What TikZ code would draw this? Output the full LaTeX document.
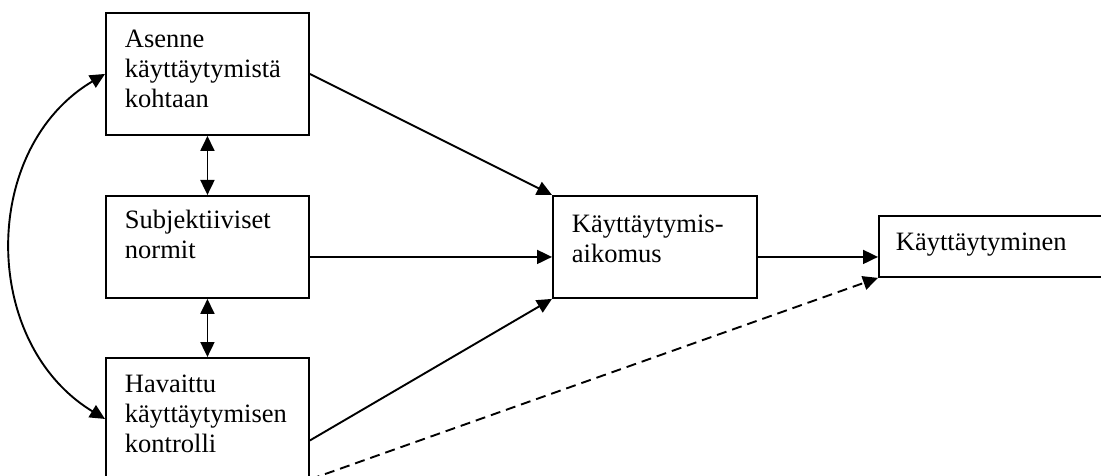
\documentclass[tikz,border=0pt]{standalone}
\usepackage{fontspec}
\setmainfont{Liberation Serif}
\usetikzlibrary{arrows.meta, positioning, calc}

\begin{document}
\begin{tikzpicture}[x=1pt, y=-1pt, >={Triangle[length=15pt, width=14pt]}, line width=1.9pt,
    box/.style={draw, anchor=north west, inner sep=0pt},
    lbl/.style={anchor=base west, inner sep=0pt, text width=200pt, align=left,
      font=\fontsize{26.5}{30}\selectfont}]
  \useasboundingbox[fill=white] (0,0) rectangle (1101,476);
  % boxes
  \node[box, minimum width=203pt, minimum height=122pt] (A) at (105,12) {};
  \node[box, minimum width=203pt, minimum height=102pt] (S) at (105,195) {};
  \node[box, minimum width=203pt, minimum height=133pt] (H) at (105,357) {};
  \node[box, minimum width=204pt, minimum height=102pt] (K) at (552,195) {};
  \node[box, minimum width=240pt, minimum height=61pt] (B) at (878,215) {};
  % texts
  \node[lbl] (tA) at ($(A.north west)+(19,36)$) {Asenne\\käyttäytymistä\\kohtaan};
  \node[lbl] (tS) at ($(S.north west)+(19,34)$) {Subjektiiviset\\normit};
  \node[lbl] (tH) at ($(H.north west)+(19,35)$) {Havaittu\\käyttäytymisen\\kontrolli};
  \node[lbl] (tK) at ($(K.north west)+(19,37)$) {Käyttäytymis-\\aikomus};
  \node[lbl] (tB) at ($(B.north west)+(17,35)$) {Käyttäytyminen};
  % connectors
  \draw[->] (A.east) -- (K.north west);
  \draw[->] ([yshift=-10pt]S.east) -- ([yshift=-10pt]K.west);
  \draw[->] ([yshift=-16pt]H.east) -- (K.south west);
  \draw[->] ([yshift=-10pt]K.east) -- ([yshift=-10pt]K.east -| B.west);
  \draw[->, dash pattern=on 10pt off 6pt] ([yshift=-55pt]H.east) -- (B.south west);
  \draw[<->] (A.south) -- (S.north);
  \draw[<->] (S.south) -- (H.north);
  \draw[<->] (A.west) .. controls (-20,148) and (-20,343) .. ([yshift=5.5pt]H.west);
\end{tikzpicture}
\end{document}
